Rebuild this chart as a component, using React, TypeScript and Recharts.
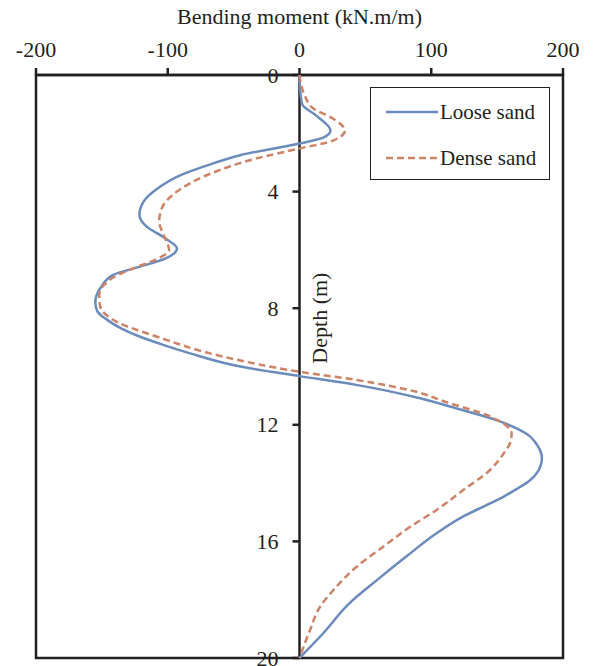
import React from 'react';
import {
  ScatterChart,
  Scatter,
  XAxis,
  YAxis,
  ReferenceLine,
  ReferenceDot,
  ReferenceArea,
  Legend,
} from 'recharts';

const FONT = '"Liberation Serif", "Times New Roman", Times, serif';
const INK = '#231f20';

// Loose sand: depth (m) and bending moment (kN.m/m)
const looseDepth = [0, 0.5, 1.0, 1.4, 1.9, 2.15, 2.35, 2.75, 3.1, 3.45, 3.9, 4.35, 4.8, 5.2, 5.6, 5.95, 6.3, 6.6, 6.85, 7.3, 7.8, 8.1, 8.4, 8.7, 8.98, 9.25, 9.55, 10.0, 10.33, 10.63, 11.09, 11.45, 11.85, 12.3, 12.7, 13.15, 13.6, 13.9, 14.2, 14.47, 14.69, 15.15, 15.72, 16.52, 17.32, 18.12, 19.15, 20];
const looseMoment = [0, 0.5, 2, 13, 23.5, 18, 0, -45, -70, -91, -108, -118.5, -121.5, -116, -102, -93, -102, -123, -141, -151, -155, -153.5, -146, -135, -121, -104, -83, -45, 0, 43, 91.5, 120, 150, 172, 180.5, 184, 181, 175, 165, 154.7, 145, 124, 104, 81, 59, 38, 18, 0];

// Dense sand
const denseDepth = [0, 0.7, 1.15, 1.5, 1.9, 2.25, 2.52, 2.86, 3.43, 4.0, 4.57, 5.03, 5.5, 6.0, 6.35, 6.63, 6.98, 7.55, 7.9, 8.46, 8.98, 9.66, 10.18, 10.46, 10.86, 11.2, 11.72, 12.3, 12.6, 12.98, 13.55, 14.24, 14.92, 15.5, 16.18, 16.87, 17.67, 18.24, 19.04, 20];
const denseMoment = [0, 4, 10.5, 25.5, 34.5, 25.5, 0, -32.5, -70, -93, -104.5, -106.5, -103, -99, -110, -126, -142.5, -152, -151.5, -139, -108, -58, 0, 43, 88, 110, 145, 161, 160, 155, 144.6, 124.3, 104, 84, 63.6, 43.4, 25.7, 15.6, 8, 0];

const xTicks = [-200, -100, 0, 100, 200];
const depthTicks = [0, 4, 8, 12, 16, 20];

const seriesNames = ['Loose sand', 'Dense sand'];
const seriesColors = ['#6a8bbb', '#cd8366'];
const seriesDash = ['', '7 4'];

const looseData = looseDepth.map((d, i) => ({ d, m: looseMoment[i] }));
const denseData = denseDepth.map((d, i) => ({ d, m: denseMoment[i] }));

const noShape = () => <g />;

const LegendBox = () => (
  <div
    style={{
      border: `1px solid ${INK}`,
      background: '#fff',
      width: 180,
      height: 93,
      boxSizing: 'border-box',
      fontFamily: FONT,
      fontSize: 21,
      color: INK,
      paddingTop: 12,
    }}
  >
    {seriesNames.map((name, i) => (
      <div key={name} style={{ display: 'flex', alignItems: 'center', height: 24, marginBottom: i === 0 ? 22 : 0 }}>
        <svg width={70} height={10} style={{ marginLeft: 15 }}>
          <line
            x1={0}
            y1={5}
            x2={52}
            y2={5}
            stroke={seriesColors[i]}
            strokeWidth={2.5}
            strokeDasharray={seriesDash[i] || undefined}
          />
        </svg>
        <span style={{ marginLeft: -16, lineHeight: '24px' }}>{name}</span>
      </div>
    ))}
  </div>
);

export default function App() {
  return (
    <div style={{ position: 'absolute', left: 0, top: 0, width: 593, height: 666, background: '#fff' }}>
      <ScatterChart width={593} height={666} margin={{ top: 30, right: 30, bottom: 8, left: 36 }}>
        <XAxis
          type="number"
          dataKey="m"
          orientation="top"
          domain={[-200, 200]}
          ticks={xTicks}
          allowDataOverflow
          height={45}
          tickSize={7}
          tickMargin={11}
          axisLine={{ stroke: INK, strokeWidth: 2.5 }}
          tickLine={{ stroke: INK, strokeWidth: 2.5 }}
          tick={{ fontSize: 22, fill: INK, fontFamily: FONT }}
          label={{
            content: (props: any) => {
              const vb = props.viewBox || {};
              return (
                <text
                  x={vb.x + vb.width / 2}
                  y={vb.y - 6}
                  textAnchor="middle"
                  fontSize={22}
                  fontFamily={FONT}
                  fill={INK}
                >
                  Bending moment (kN.m/m)
                </text>
              );
            },
          }}
        />
        <YAxis type="number" dataKey="d" domain={[0, 20]} reversed hide />
        <ReferenceArea
          x1={-200}
          x2={200}
          y1={0}
          y2={20}
          fill="none"
          fillOpacity={0}
          stroke={INK}
          strokeWidth={2.5}
          ifOverflow="visible"
        />
        <ReferenceLine
          x={0}
          stroke={INK}
          strokeWidth={2.5}
          label={{
            content: (props: any) => {
              const vb = props.viewBox || {};
              const cx = vb.x + 20;
              const cy = vb.y + vb.height * 0.417;
              return (
                <text
                  x={cx}
                  y={cy}
                  transform={`rotate(-90, ${cx}, ${cy})`}
                  textAnchor="middle"
                  dominantBaseline="central"
                  fontSize={22}
                  fontFamily={FONT}
                  fill={INK}
                >
                  Depth (m)
                </text>
              );
            },
          }}
        />
        {depthTicks.map((t) => (
          <ReferenceDot
            key={t}
            x={0}
            y={t}
            r={1}
            ifOverflow="visible"
            shape={(p: any) => (
              <g>
                <line x1={p.cx - 7} y1={p.cy} x2={p.cx} y2={p.cy} stroke={INK} strokeWidth={2.5} />
                <text
                  x={p.cx - 21}
                  y={p.cy}
                  textAnchor="end"
                  dominantBaseline="central"
                  fontSize={22}
                  fontFamily={FONT}
                  fill={INK}
                >
                  {t}
                </text>
              </g>
            )}
          />
        ))}
        <Scatter
          name={seriesNames[0]}
          data={looseData}
          fill={seriesColors[0]}
          line={{ stroke: seriesColors[0], strokeWidth: 2.5 }}
          lineType="joint"
          lineJointType="monotoneY"
          shape={noShape}
          isAnimationActive={false}
        />
        <Scatter
          name={seriesNames[1]}
          data={denseData}
          fill={seriesColors[1]}
          line={{ stroke: seriesColors[1], strokeWidth: 2.5, strokeDasharray: seriesDash[1] }}
          lineType="joint"
          lineJointType="monotoneY"
          shape={noShape}
          isAnimationActive={false}
        />
        <Legend
          layout="vertical"
          align="center"
          verticalAlign="middle"
          width={180}
          wrapperStyle={{ top: 87, left: 370, width: 180 }}
          content={() => <LegendBox />}
        />
      </ScatterChart>
    </div>
  );
}
